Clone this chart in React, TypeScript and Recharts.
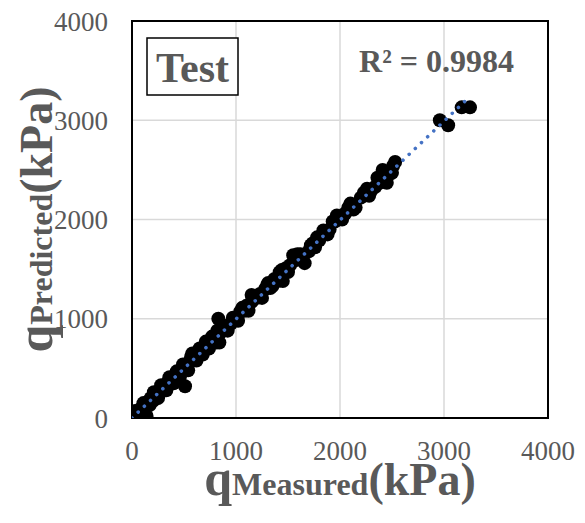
import React from 'react';
import {
  ScatterChart,
  Scatter,
  XAxis,
  YAxis,
  CartesianGrid,
  ReferenceArea,
} from 'recharts';

const measured = [
  0, 20, 40, 60, 90, 140, 150, 120, 180, 200, 230, 260, 290, 320, 350, 380, 410, 440, 470, 510,
  500, 530, 560, 580, 600, 630, 660, 690, 720, 750, 780, 800, 830, 840, 820, 850, 870, 900, 950,
  1000, 1040, 1080, 1100, 1150, 1150, 1200, 1230, 1280, 1300, 1330, 1370, 1400, 1420, 1450, 1480,
  1520, 1550, 1570, 1600, 1620, 1660, 1700, 1740, 1780, 1800, 1830, 1860, 1900, 1950, 1970, 2000,
  2050, 2100, 2150, 2200, 2260, 2300, 2340, 2380, 2410, 2450, 2480, 2500, 2530, 2960, 3040, 3170,
  3250,
  30, 70, 110, 170, 210, 250, 280, 330, 360, 400, 430, 460, 490, 540, 570, 620, 650, 680, 710, 740,
  770, 810, 880, 920, 970, 1020, 1060, 1120, 1180, 1250, 1310, 1350, 1440, 1500, 1590, 1640, 1720,
  1760, 1840, 1880, 1930, 2020, 2080, 2130, 2230, 2280, 2360, 2420, 2510,
];
const predicted = [
  0, 15, 50, 40, 100, 20, 150, 110, 200, 170, 250, 240, 300, 310, 370, 360, 420, 430, 480, 320,
  520, 510, 580, 650, 600, 640, 680, 700, 740, 760, 800, 790, 1000, 760, 880, 860, 900, 920, 950,
  1010, 1070, 1080, 1130, 1240, 1170, 1210, 1250, 1300, 1340, 1310, 1400, 1380, 1470, 1380, 1510,
  1540, 1640, 1590, 1620, 1650, 1560, 1680, 1760, 1820, 1790, 1840, 1870, 1900, 1980, 2040, 2020,
  2060, 2160, 2120, 2220, 2310, 2290, 2330, 2370, 2500, 2370, 2460, 2470, 2580, 3000, 2950, 3130,
  3130,
  70, 20, 150, 130, 260, 200, 330, 280, 410, 350, 470, 410, 540, 480, 620, 580, 700, 640, 770, 700,
  820, 760, 930, 880, 1010, 980, 1110, 1080, 1230, 1210, 1360, 1330, 1490, 1470, 1650, 1600, 1740,
  1720, 1890, 1850, 1980, 2000, 2120, 2100, 2270, 2240, 2420, 2380, 2540,
];
const trendX = [0, 3250];
const trendY = [0, 3240];
const axisTicks = [0, 1000, 2000, 3000, 4000];
const sampleLabel = 'Test';
const r2Label = 'R² = 0.9984';

const data = measured.map((x, i) => ({ x, y: predicted[i] }));
const trend = trendX.map((x, i) => ({ x, y: trendY[i] }));

const FONT = 'Liberation Serif, Times New Roman, serif';
const GREY = '#595959';

const Dot = (props: any) => <circle cx={props.cx} cy={props.cy} r={7} fill="#000" />;
const NoDot = () => <g />;

const XTitle = (props: any) => {
  const vb = props.viewBox || {};
  const cx = vb.x + vb.width / 2;
  return (
    <text x={cx} y={vb.y + 77} textAnchor="middle" fontFamily={FONT} fontWeight="bold" fill={GREY}>
      <tspan fontSize={50}>q</tspan>
      <tspan fontSize={32}>Measured</tspan>
      <tspan fontSize={46}>(kPa)</tspan>
    </text>
  );
};

const YTitle = (props: any) => {
  const vb = props.viewBox || {};
  const cy = vb.y + vb.height / 2;
  const bx = 52;
  return (
    <g>
      <text
        x={bx}
        y={cy}
        transform={`rotate(-90 ${bx} ${cy})`}
        textAnchor="middle"
        fontFamily={FONT}
        fontWeight="bold"
        fill={GREY}
      >
        <tspan fontSize={50}>q</tspan>
        <tspan fontSize={32}>Predicted</tspan>
        <tspan fontSize={46}>(kPa)</tspan>
      </text>
      <rect x={147} y={38} width={91} height={57} fill="#fff" stroke="#000" strokeWidth={1.5} />
      <text x={192.5} y={82} textAnchor="middle" fontFamily={FONT} fontWeight="bold" fontSize={42} fill={GREY}>
        {sampleLabel}
      </text>
      <text x={436.5} y={72} textAnchor="middle" fontFamily={FONT} fontWeight="bold" fontSize={32} fill={GREY}>
        {r2Label}
      </text>
    </g>
  );
};

export default function App() {
  return (
    <div style={{ position: 'absolute', left: 0, top: 0, background: '#fff' }}>
      <ScatterChart width={585} height={523} margin={{ top: 21, right: 37, bottom: 0, left: 0 }}>
        <CartesianGrid stroke="#D9D9D9" strokeWidth={1.5} />
        <XAxis
          type="number"
          dataKey="x"
          domain={[0, 4000]}
          ticks={axisTicks}
          height={105}
          tickLine={false}
          tickSize={0}
          tickMargin={23}
          axisLine={{ stroke: '#000', strokeWidth: 2 }}
          tick={{ fill: GREY, fontSize: 27, fontFamily: FONT }}
          label={<XTitle />}
          allowDataOverflow
        />
        <YAxis
          type="number"
          dataKey="y"
          domain={[0, 4000]}
          ticks={axisTicks}
          width={132}
          tickLine={false}
          tickSize={0}
          tickMargin={24}
          axisLine={{ stroke: '#000', strokeWidth: 2 }}
          tick={{ fill: GREY, fontSize: 27, fontFamily: FONT }}
          label={<YTitle />}
          allowDataOverflow
        />
        <ReferenceArea x1={0} x2={4000} y1={0} y2={4000} fill="none" stroke="#000" strokeWidth={2} fillOpacity={0} />
        <Scatter data={data} shape={Dot} isAnimationActive={false} />
        <Scatter
          data={trend}
          shape={NoDot}
          isAnimationActive={false}
          line={{ stroke: '#4472C4', strokeWidth: 3.5, strokeDasharray: '0.1 8.4', strokeLinecap: 'round' }}
        />
      </ScatterChart>
    </div>
  );
}
